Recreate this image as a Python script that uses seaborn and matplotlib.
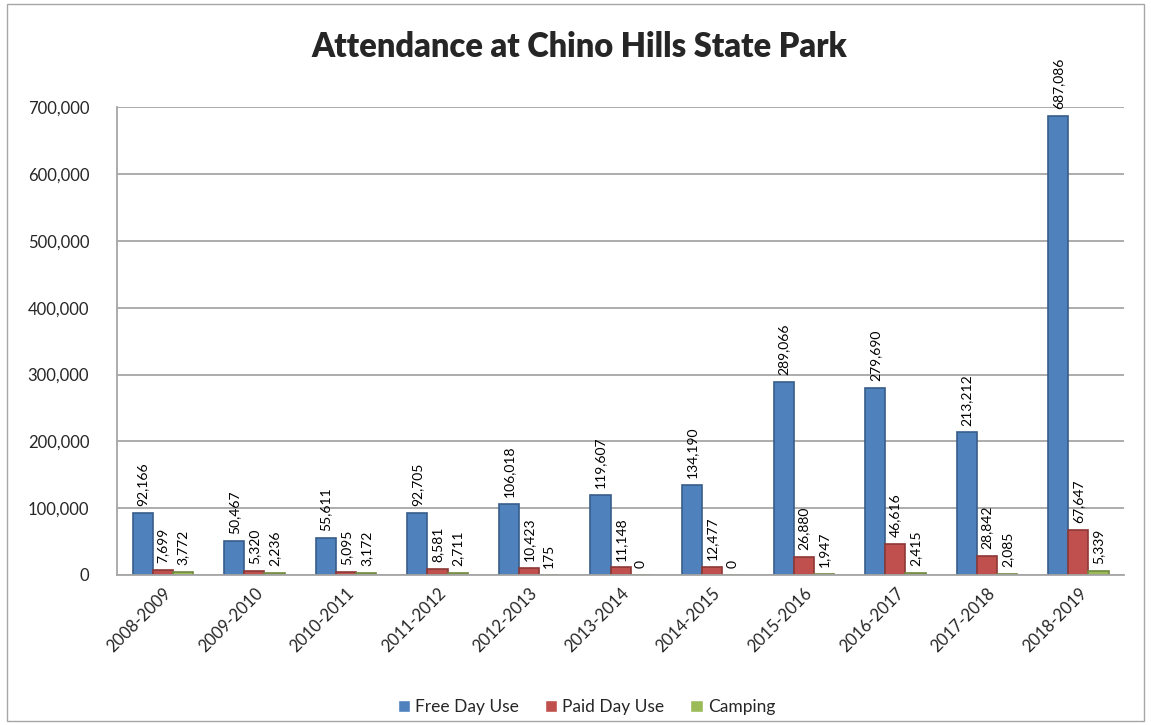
import matplotlib
matplotlib.use("Agg")
import matplotlib.pyplot as plt
import seaborn as sns
import pandas as pd
from matplotlib.patches import Rectangle

years = ["2008-2009", "2009-2010", "2010-2011", "2011-2012", "2012-2013", "2013-2014",
         "2014-2015", "2015-2016", "2016-2017", "2017-2018", "2018-2019"]
free_day_use = [92166, 50467, 55611, 92705, 106018, 119607, 134190, 289066, 279690, 213212, 687086]
paid_day_use = [7699, 5320, 5095, 8581, 10423, 11148, 12477, 26880, 46616, 28842, 67647]
camping = [3772, 2236, 3172, 2711, 175, 0, 0, 1947, 2415, 2085, 5339]
series_names = ["Free Day Use", "Paid Day Use", "Camping"]
colors = ["#4F81BD", "#C0504D", "#9BBB59"]
edge_colors = ["#385D8A", "#8C3836", "#71893F"]

df = pd.DataFrame({
    "Year": years * 3,
    "Series": [series_names[0]] * len(years) + [series_names[1]] * len(years) + [series_names[2]] * len(years),
    "Value": free_day_use + paid_day_use + camping,
})

sns.set_theme(style="white")
plt.rcParams["font.family"] = ["Lato", "DejaVu Sans"]

fig = plt.figure(figsize=(11.51, 7.25), dpi=100)
ax = fig.add_axes([0.1017, 0.207, 0.875, 0.645])

sns.barplot(data=df, x="Year", y="Value", hue="Series", palette=colors,
            width=0.66, ax=ax, saturation=1, legend=True)

for cont, ec in zip(ax.containers, edge_colors):
    for bar in cont:
        bar.set_edgecolor(ec)
        bar.set_linewidth(1.2)
    ax.bar_label(cont, labels=[f"{v:,.0f}" for v in cont.datavalues],
                 rotation=90, padding=5, fontsize=10, color="#000000")

ax.set_ylim(0, 700000)
ax.set_yticks(range(0, 700001, 100000))
ax.set_yticklabels([f"{v:,}" for v in range(0, 700001, 100000)], fontsize=12)
ax.yaxis.grid(True, color="#A6A6A6", linewidth=1.3)
ax.set_axisbelow(True)
for s in ["top", "right"]:
    ax.spines[s].set_visible(False)
ax.spines["left"].set_color("#A6A6A6")
ax.spines["bottom"].set_color("#A6A6A6")
ax.spines["left"].set_linewidth(1.3)
ax.spines["bottom"].set_linewidth(1.3)
ax.tick_params(axis="y", length=0, pad=20)
ax.tick_params(axis="x", length=0, pad=7)
plt.setp(ax.get_xticklabels(), rotation=45, ha="right", rotation_mode="anchor", fontsize=12)
ax.set_xlabel("")
ax.set_ylabel("")

ax.legend(loc="upper center", bbox_to_anchor=(0.466, -0.232), ncol=3, frameon=False,
          fontsize=12.5, handlelength=0.7, handleheight=0.7, columnspacing=1.5, handletextpad=0.3)

fig.text(0.503, 0.935, "Attendance at Chino Hills State Park", ha="center", va="center",
         fontsize=23.5, fontweight="heavy")

fig.patches.append(Rectangle((0.006, 0.006), 0.988, 0.988, transform=fig.transFigure,
                             fill=False, edgecolor="#A6A6A6", linewidth=1))

fig.savefig("out.png", dpi=100)
